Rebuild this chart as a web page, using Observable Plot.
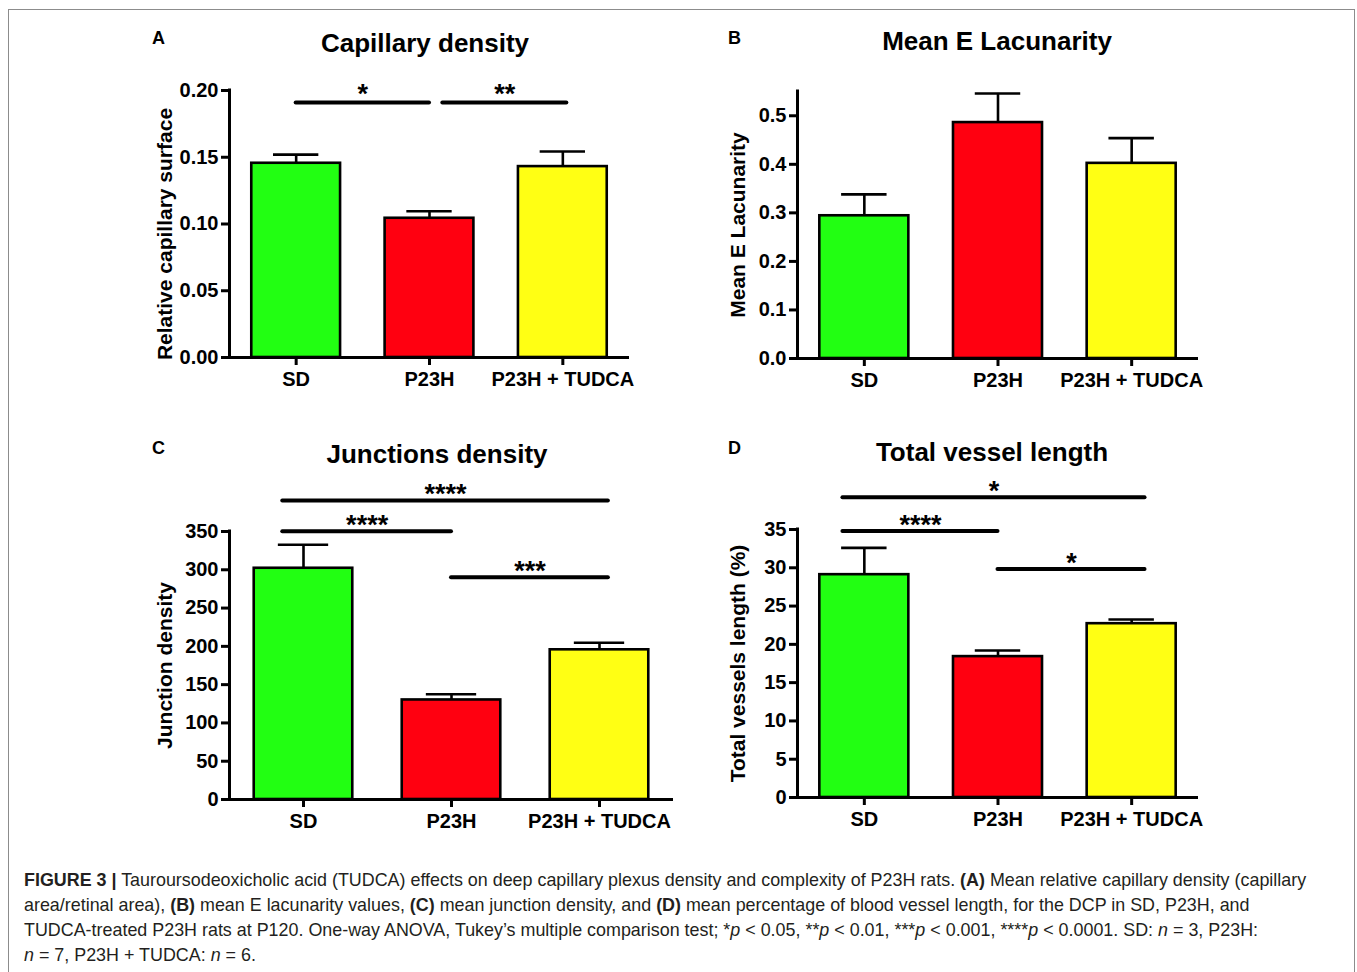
<!DOCTYPE html>
<html>
<head>
<meta charset="utf-8">
<script src="https://cdn.jsdelivr.net/npm/d3@7"></script>
<script src="https://cdn.jsdelivr.net/npm/@observablehq/plot@0.6"></script>
<style>
  html, body { margin: 0; padding: 0; background: #fff; }
  #fig { position: relative; width: 1357px; height: 972px; overflow: hidden; font-family: "Liberation Sans", Arial, sans-serif; }
  #frame { position: absolute; left: 8px; top: 9px; width: 1347px; height: 1000px; border: 1px solid #8c8c8c; box-sizing: border-box; }
  .panel { position: absolute; }
  .title { position: absolute; width: 420px; text-align: center; font-weight: bold; font-size: 26px; line-height: 1; color: #000; white-space: nowrap; }
  .letter { position: absolute; font-weight: bold; font-size: 18px; line-height: 1; color: #000; }
  #caption { position: absolute; left: 24px; top: 868px; font-size: 17.9px; line-height: 25px; color: #231f20; white-space: nowrap; }
  #caption b { font-weight: bold; }
</style>
</head>
<body>
<div id="fig">
  <div id="frame"></div>
  <div class="letter" style="left:152px; top:29px;">A</div>
  <div class="letter" style="left:728px; top:29px;">B</div>
  <div class="letter" style="left:152px; top:439px;">C</div>
  <div class="letter" style="left:728px; top:439px;">D</div>
  <div class="title" style="left:215px; top:30px;">Capillary density</div>
  <div class="title" style="left:787px; top:28px;">Mean E Lacunarity</div>
  <div class="title" style="left:227px; top:441px;">Junctions density</div>
  <div class="title" style="left:782px; top:439px;">Total vessel length</div>
  <div id="pA" class="panel" style="left:130px; top:60px;"></div>
  <div id="pB" class="panel" style="left:700px; top:60px;"></div>
  <div id="pC" class="panel" style="left:130px; top:470px;"></div>
  <div id="pD" class="panel" style="left:700px; top:470px;"></div>
  <div id="caption">
    <b>FIGURE 3 |</b> Tauroursodeoxicholic acid (TUDCA) effects on deep capillary plexus density and complexity of P23H rats. <b>(A)</b> Mean relative capillary density (capillary<br>
    area/retinal area), <b>(B)</b> mean E lacunarity values, <b>(C)</b> mean junction density, and <b>(D)</b> mean percentage of blood vessel length, for the DCP in SD, P23H, and<br>
    TUDCA-treated P23H rats at P120. One-way ANOVA, Tukey’s multiple comparison test; *<i>p</i> &lt; 0.05, **<i>p</i> &lt; 0.01, ***<i>p</i> &lt; 0.001, ****<i>p</i> &lt; 0.0001. SD: <i>n</i> = 3, P23H:<br>
    <i>n</i> = 7, P23H + TUDCA: <i>n</i> = 6.
  </div>
</div>
<script>
// ---------- data ----------
const groups = ["SD", "P23H", "P23H + TUDCA"];

// A: Capillary density
const capMean = [0.1455, 0.1043, 0.1430];
const capSem  = [0.0065, 0.0053, 0.0113];
const capTicks = [0, 0.05, 0.10, 0.15, 0.20];
const capSig = [["SD", "P23H", 0.191, "*"], ["P23H", "P23H + TUDCA", 0.191, "**"]];

// B: Mean E Lacunarity
const lacMean = [0.294, 0.486, 0.402];
const lacSem  = [0.044, 0.060, 0.052];
const lacTicks = [0, 0.1, 0.2, 0.3, 0.4, 0.5];
const lacSig = [];

// C: Junctions density
const juncMean = [302, 130, 195.5];
const juncSem  = [30.6, 7.5, 9.2];
const juncTicks = [0, 50, 100, 150, 200, 250, 300, 350];
const juncSig = [["SD", "P23H + TUDCA", 390.6, "****"], ["SD", "P23H", 350.4, "****"], ["P23H", "P23H + TUDCA", 290.2, "***"]];

// D: Total vessel length
const lenMean = [29.1, 18.4, 22.7];
const lenSem  = [3.5, 0.8, 0.55];
const lenTicks = [0, 5, 10, 15, 20, 25, 30, 35];
const lenSig = [["SD", "P23H + TUDCA", 39.2, "*"], ["SD", "P23H", 34.8, "****"], ["P23H", "P23H + TUDCA", 29.85, "*"]];

// ---------- styles ----------
const fills = ["#22ff12", "#ff0010", "#ffff14"];
const FONT = "'Liberation Sans', Arial, Helvetica, sans-serif";
const half = 0.333;     // half bar width (in band units)
const capHalf = 0.17;   // half error-cap width

function panel(el, cfg) {
  const rows = groups.map((g, i) => ({g, i, mean: cfg.mean[i], top: cfg.mean[i] + cfg.sem[i], fill: fills[i]}));
  const idx = g => groups.indexOf(g);
  const ns = cfg.nudgeStart || {}, ne = cfg.nudgeEnd || {};
  const sig = cfg.sig.map(([a, b, lvl, lab]) => ({x1: idx(a) + (ns[a] || 0), x2: idx(b) + (ne[b] || 0), y: lvl, lab}));
  const xDomain = [-0.5, 2.5];
  const chart = Plot.plot({
    width: cfg.width, height: cfg.height,
    marginLeft: cfg.ml, marginRight: cfg.mr, marginTop: cfg.mt, marginBottom: cfg.mb,
    x: {type: "linear", domain: xDomain, axis: null},
    y: {domain: cfg.domain, axis: null},
    style: {fontFamily: FONT, fontSize: "20px", fontWeight: "bold", color: "#000", background: "transparent", overflow: "visible"},
    marks: [
      Plot.rectY(rows, {x1: d => d.i - half, x2: d => d.i + half, y1: 0, y2: "mean", fill: "fill", stroke: "#000", strokeWidth: 2.6}),
      Plot.ruleX(rows, {x: "i", y1: "mean", y2: "top", stroke: "#000", strokeWidth: 2.6}),
      Plot.ruleY(rows, {x1: d => d.i - capHalf, x2: d => d.i + capHalf, y: "top", stroke: "#000", strokeWidth: 2.6}),
      Plot.ruleX([xDomain[0]], {stroke: "#000", strokeWidth: 3, strokeLinecap: "square"}),
      Plot.ruleY([0], {stroke: "#000", strokeWidth: 3}),
      Plot.axisY({ticks: cfg.ticks, tickFormat: cfg.fmt, tickSize: 8, tickPadding: 3, strokeWidth: 3, label: null, fontSize: 20, fontWeight: "bold"}),
      Plot.axisX({ticks: [0, 1, 2], tickFormat: i => groups[i], tickSize: 8, tickPadding: 6, strokeWidth: 3, label: null, fontSize: 20, fontWeight: "bold"}),
      Plot.ruleY(sig, {x1: "x1", x2: "x2", y: "y", stroke: "#000", strokeWidth: 4, strokeLinecap: "round"}),
      Plot.text(sig, {x: d => (d.x1 + d.x2) / 2, y: "y", text: "lab", dy: cfg.starDy, fontSize: 27, fontWeight: "bold"}),
      Plot.text([cfg.label], {frameAnchor: "left", textAnchor: "middle", lineAnchor: "middle", text: d => d, rotate: -90, dx: -cfg.labelOff, dy: cfg.labelDy || 0, fontSize: 21, fontWeight: "bold"})
    ]
  });
  document.getElementById(el).appendChild(chart);
}

panel("pA", {mean: capMean, sem: capSem, ticks: capTicks, fmt: d3.format(".2f"), domain: [0, 0.2], sig: capSig,
  width: 520, height: 340, ml: 99, mr: 21, mt: 30, mb: 43, label: "Relative capillary surface", labelOff: 64, labelDy: 10, starDy: -8,
  nudgeStart: {"P23H": 0.1}, nudgeEnd: {"P23H + TUDCA": 0.03}});
panel("pB", {mean: lacMean, sem: lacSem, ticks: lacTicks, fmt: d3.format(".1f"), domain: [0, 0.55], sig: lacSig,
  width: 520, height: 340, ml: 97, mr: 22, mt: 31, mb: 42, label: "Mean E Lacunarity", labelOff: 59, starDy: -8});
panel("pC", {mean: juncMean, sem: juncSem, ticks: juncTicks, fmt: d3.format("d"), domain: [0, 350], sig: juncSig,
  width: 560, height: 370, ml: 99, mr: 17, mt: 61, mb: 41, label: "Junction density", labelOff: 64, starDy: -6,
  nudgeStart: {"SD": -0.14}, nudgeEnd: {"P23H + TUDCA": 0.06}});
panel("pD", {mean: lenMean, sem: lenSem, ticks: lenTicks, fmt: d3.format("d"), domain: [0, 35], sig: lenSig,
  width: 520, height: 370, ml: 97, mr: 22, mt: 59, mb: 43, label: "Total vessels length (%)", labelOff: 59, starDy: -6,
  nudgeStart: {"SD": -0.16}, nudgeEnd: {"P23H + TUDCA": 0.1}});
</script>
</body>
</html>
